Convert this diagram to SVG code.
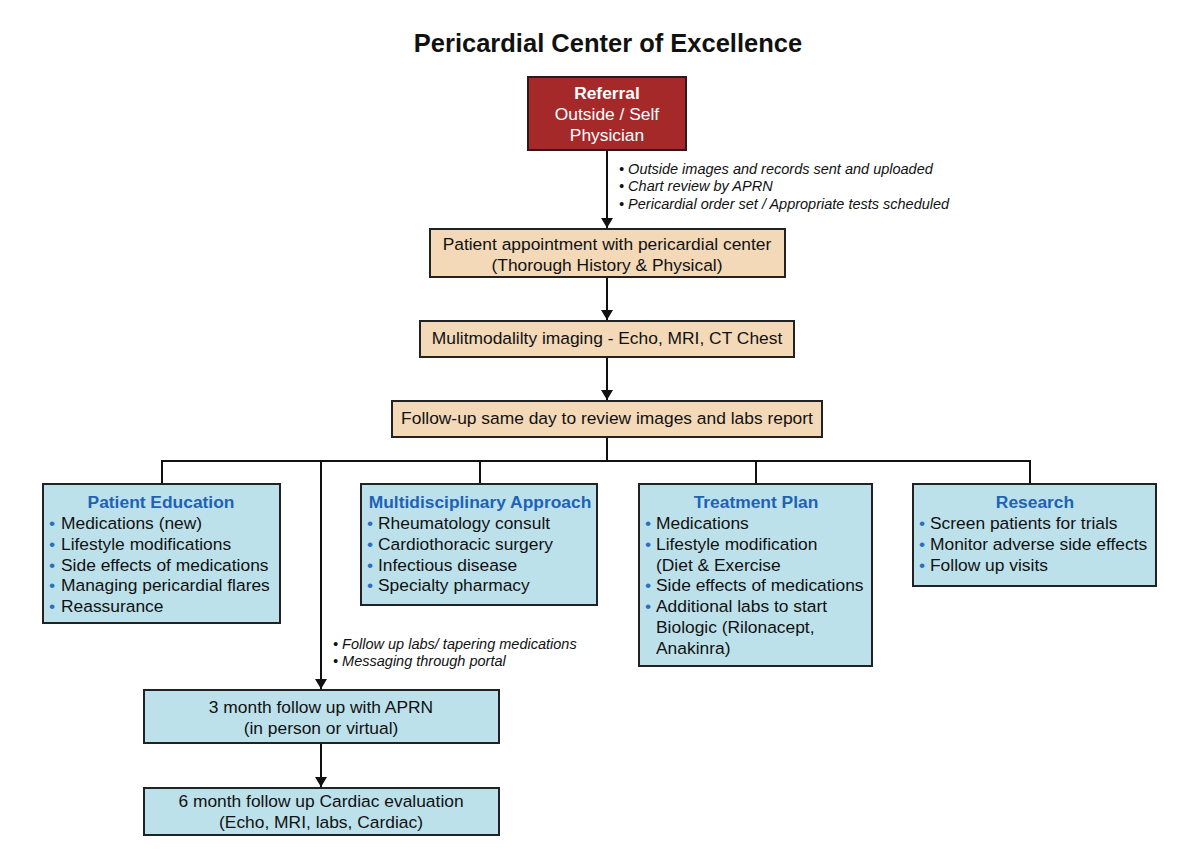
<svg xmlns="http://www.w3.org/2000/svg" width="1200" height="853" viewBox="0 0 1200 853">
<style>
text{font-family:"Liberation Sans",Arial,sans-serif;font-size:17.4px;fill:#111}
.title{font-size:25.5px;font-weight:bold;fill:#111}
.c{text-anchor:middle}
.wt{fill:#fff}
.b{font-weight:bold}
.h{font-weight:bold;fill:#1d63b5;text-anchor:middle}
.bu{fill:#2a6fc0}
.note{font-size:14.5px;font-style:italic}
.red{fill:#a6292a;stroke:#2a1a1a;stroke-width:2}
.tan{fill:#f3d9b8;stroke:#222;stroke-width:2}
.blue{fill:#bde1eb;stroke:#222;stroke-width:2}
.ln{stroke:#111;stroke-width:2;fill:none}
</style>
<defs>
<marker id="ah" viewBox="0 0 10 12" refX="10" refY="6" markerWidth="10" markerHeight="12" markerUnits="userSpaceOnUse" orient="auto">
<path d="M0,0 L10,6 L0,12 Z" fill="#111"/>
</marker>
</defs>
<rect width="1200" height="853" fill="#fff"/>
<text class="title c" x="608" y="52">Pericardial Center of Excellence</text>

<g id="connectors">
<line class="ln" x1="607" y1="151" x2="607" y2="228" marker-end="url(#ah)"/>
<line class="ln" x1="607" y1="278" x2="607" y2="320" marker-end="url(#ah)"/>
<line class="ln" x1="607" y1="357" x2="607" y2="400" marker-end="url(#ah)"/>
<line class="ln" x1="607" y1="437" x2="607" y2="461"/>
<line class="ln" x1="161" y1="461" x2="1031" y2="461"/>
<line class="ln" x1="162" y1="461" x2="162" y2="484"/>
<line class="ln" x1="480" y1="461" x2="480" y2="484"/>
<line class="ln" x1="756" y1="461" x2="756" y2="484"/>
<line class="ln" x1="1030" y1="461" x2="1030" y2="484"/>
<line class="ln" x1="321" y1="461" x2="321" y2="689" marker-end="url(#ah)"/>
<line class="ln" x1="321" y1="743" x2="321" y2="787" marker-end="url(#ah)"/>
<g class="note">
<text class="note" x="619" y="174">• Outside images and records sent and uploaded</text>
<text class="note" x="619" y="191">• Chart review by APRN</text>
<text class="note" x="619" y="209">• Pericardial order set / Appropriate tests scheduled</text>
<text class="note" x="333" y="649">• Follow up labs/ tapering medications</text>
<text class="note" x="333" y="666">• Messaging through portal</text>
</g>
</g>

<g id="referral">
<rect class="red" x="528" y="77" width="158" height="73"/>
<text class="c wt b" x="607" y="99">Referral</text>
<text class="c wt" x="607" y="120">Outside / Self</text>
<text class="c wt" x="607" y="141">Physician</text>
</g>

<g id="appointment">
<rect class="tan" x="430" y="229" width="355" height="48"/>
<text class="c" x="607" y="250">Patient appointment with pericardial center</text>
<text class="c" x="607" y="271">(Thorough History &amp; Physical)</text>
</g>

<g id="imaging">
<rect class="tan" x="420" y="321" width="374" height="36"/>
<text class="c" x="607" y="344">Mulitmodalilty imaging - Echo, MRI, CT Chest</text>
</g>

<g id="followup">
<rect class="tan" x="392" y="401" width="430" height="36"/>
<text class="c" x="607" y="424">Follow-up same day to review images and labs report</text>
</g>

<g id="patient-education">
<rect class="blue" x="43" y="484" width="237" height="139"/>
<text class="h" x="161" y="508">Patient Education</text>
<text class="bu" x="49" y="529">•</text><text x="61" y="529">Medications (new)</text>
<text class="bu" x="49" y="550">•</text><text x="61" y="550">Lifestyle modifications</text>
<text class="bu" x="49" y="571">•</text><text x="61" y="571">Side effects of medications</text>
<text class="bu" x="49" y="591">•</text><text x="61" y="591">Managing pericardial flares</text>
<text class="bu" x="49" y="612">•</text><text x="61" y="612">Reassurance</text>
</g>

<g id="multidisciplinary">
<rect class="blue" x="361" y="484" width="236" height="121"/>
<text class="h" x="480" y="508">Multidisciplinary Approach</text>
<text class="bu" x="367" y="529">•</text><text x="378" y="529">Rheumatology consult</text>
<text class="bu" x="367" y="550">•</text><text x="378" y="550">Cardiothoracic surgery</text>
<text class="bu" x="367" y="571">•</text><text x="378" y="571">Infectious disease</text>
<text class="bu" x="367" y="591">•</text><text x="378" y="591">Specialty pharmacy</text>
</g>

<g id="treatment-plan">
<rect class="blue" x="639" y="484" width="233" height="182"/>
<text class="h" x="756" y="508">Treatment Plan</text>
<text class="bu" x="645" y="529">•</text><text x="656" y="529">Medications</text>
<text class="bu" x="645" y="550">•</text><text x="656" y="550">Lifestyle modification</text>
<text x="656" y="571">(Diet &amp; Exercise</text>
<text class="bu" x="645" y="591">•</text><text x="656" y="591">Side effects of medications</text>
<text class="bu" x="645" y="612">•</text><text x="656" y="612">Additional labs to start</text>
<text x="656" y="633">Biologic (Rilonacept,</text>
<text x="656" y="654">Anakinra)</text>
</g>

<g id="research">
<rect class="blue" x="913" y="484" width="243" height="102"/>
<text class="h" x="1035" y="508">Research</text>
<text class="bu" x="919" y="529">•</text><text x="930" y="529">Screen patients for trials</text>
<text class="bu" x="919" y="550">•</text><text x="930" y="550">Monitor adverse side effects</text>
<text class="bu" x="919" y="571">•</text><text x="930" y="571">Follow up visits</text>
</g>

<g id="three-month">
<rect class="blue" x="144" y="690" width="355" height="53"/>
<text class="c" x="321" y="713">3 month follow up with APRN</text>
<text class="c" x="321" y="734">(in person or virtual)</text>
</g>

<g id="six-month">
<rect class="blue" x="144" y="788" width="355" height="47"/>
<text class="c" x="321" y="807">6 month follow up Cardiac evaluation</text>
<text class="c" x="321" y="828">(Echo, MRI, labs, Cardiac)</text>
</g>
</svg>
